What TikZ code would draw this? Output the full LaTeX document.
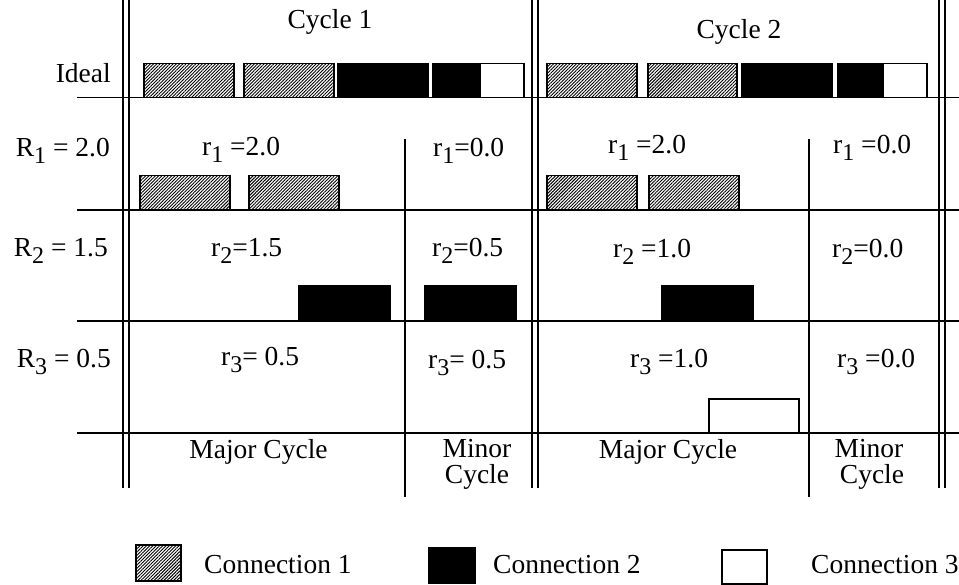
\documentclass[tikz,border=0pt]{standalone}
\usepackage{fontspec}
\setmainfont{Liberation Serif}
\usepackage{tikz}
\usetikzlibrary{patterns.meta}

% lowered index for r_i and R_i
\newcommand{\ix}[1]{\raisebox{-7pt}{\fontsize{24}{24}\selectfont #1}}

\begin{document}
\begin{tikzpicture}[x=1pt, y=-1pt,
  txt/.style={anchor=base west, inner sep=0pt, font=\fontsize{27.5}{30}\selectfont},
  rtxt/.style={txt, anchor=base east},
  ctxt/.style={txt, anchor=base},
  rule/.style={line width=1.3pt},
  conn1/.style={draw, line width=1.2pt, pattern={Lines[angle=45,distance=2.3pt,line width=0.9pt]}},
  conn2/.style={draw, line width=1.2pt, fill=black},
  conn3/.style={draw, line width=1.2pt, fill=white}]
\useasboundingbox (0,0) rectangle (959,585);

% grid
\foreach \x in {123,129,532,538,939,945} \draw[rule] (\x,0) -- (\x,488);
\foreach \y in {97.5,210,321,433} \draw[rule] (77,\y) -- (959,\y);
\draw[rule] (405,139) -- (405,497);
\draw[rule] (809,139) -- (809,497);

% ideal schedule
\draw[conn1] (144,63.5) rectangle (234,97.5);
\draw[conn1] (244,63.5) rectangle (334,97.5);
\draw[conn2] (338,63.5) rectangle (428,97.5);
\draw[conn2] (433,63.5) rectangle (480,97.5);
\draw[conn3] (480,63.5) rectangle (524,97.5);
\draw[conn1] (547,63.5) rectangle (637,97.5);
\draw[conn1] (648,63.5) rectangle (737,97.5);
\draw[conn2] (742,63.5) rectangle (832,97.5);
\draw[conn2] (838,63.5) rectangle (883,97.5);
\draw[conn3] (883,63.5) rectangle (927,97.5);

% R1
\draw[conn1] (140,175.5) rectangle (230,210);
\draw[conn1] (249,175.5) rectangle (339,210);
\draw[conn1] (547,175.5) rectangle (637,210);
\draw[conn1] (649,175.5) rectangle (739,210);
% R2
\draw[conn2] (299,286) rectangle (390,321);
\draw[conn2] (425,286) rectangle (516,321);
\draw[conn2] (662,286) rectangle (753,321);
% R3
\draw[conn3] (709,399) rectangle (799,433);

% headings
\node[ctxt] (cyc1) at (330,29) {Cycle 1};
\node[ctxt] (cyc2) at (739,39) {Cycle 2};
\node[rtxt] (ideal) at (111,83) {Ideal};
\node[rtxt] (rate1) at (110,157) {R\ix{1} = 2.0};
\node[rtxt] (rate2) at (108,257) {R\ix{2} = 1.5};
\node[rtxt] (rate3) at (111,368) {R\ix{3} = 0.5};

% cycle 1
\node[txt] (a11) at (202,156) {r\ix{1} =2.0};
\node[txt] (a21) at (211,257) {r\ix{2}=1.5};
\node[txt] (a31) at (221,366) {r\ix{3}= 0.5};
\node[txt] (b11) at (433,157) {r\ix{1}=0.0};
\node[txt] (b21) at (432,257) {r\ix{2}=0.5};
\node[txt] (b31) at (428,369) {r\ix{3}= 0.5};
% cycle 2
\node[txt] (a12) at (608,154) {r\ix{1} =2.0};
\node[txt] (a22) at (613,258) {r\ix{2} =1.0};
\node[txt] (a32) at (630,367) {r\ix{3} =1.0};
\node[txt] (b12) at (833,154) {r\ix{1} =0.0};
\node[txt] (b22) at (832,258) {r\ix{2}=0.0};
\node[txt] (b32) at (837,368) {r\ix{3} =0.0};

% bottom row
\node[ctxt] (maj1) at (258.5,458) {Major Cycle};
\node[ctxt] (min1) at (477,457) {Minor};
\node[ctxt] (min1b) at (477,483) {Cycle};
\node[ctxt] (maj2) at (668,458) {Major Cycle};
\node[ctxt] (min2) at (869,457) {Minor};
\node[ctxt] (min2b) at (872,483) {Cycle};

% legend
\draw[conn1] (136,545) rectangle (181,581);
\node[txt] (leg1) at (204,573) {Connection 1};
\draw[conn2] (429,548) rectangle (475,583);
\node[txt] (leg2) at (493,573) {Connection 2};
\draw[conn3] (722,550) rectangle (767,584);
\node[txt] (leg3) at (811,573) {Connection 3};
\end{tikzpicture}
\end{document}
